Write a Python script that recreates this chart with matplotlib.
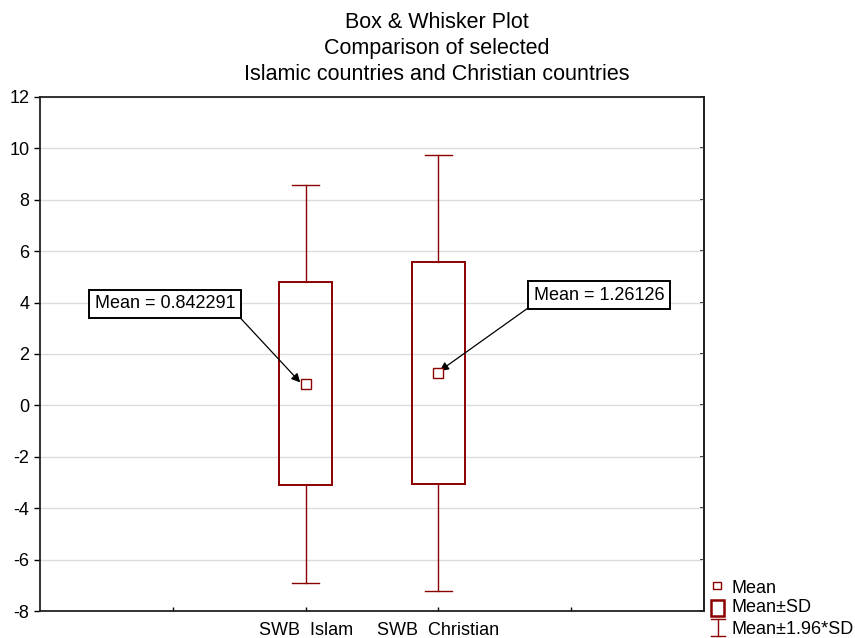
import matplotlib.pyplot as plt
from matplotlib.patches import Rectangle
from matplotlib.lines import Line2D

plt.rcParams['font.family'] = ['Liberation Sans', 'DejaVu Sans']
plt.rcParams['axes.unicode_minus'] = False

# data
groups = ["SWB  Islam", "SWB  Christian"]
means = [0.842291, 1.26126]
sds = [3.95, 4.33]
positions = [2, 3]
mean_labels = ["Mean = 0.842291", "Mean = 1.26126"]
yticks = list(range(-8, 13, 2))

red = "#8b0000"
fs = 13

fig = plt.figure(figsize=(8.55, 6.38), dpi=100)
ax = fig.add_axes([40 / 855, 1 - 611 / 638, 664 / 855, 514 / 638])

for x, m, sd in zip(positions, means, sds):
    lo_w, hi_w = m - 1.96 * sd, m + 1.96 * sd
    box = Rectangle((x - 0.2, m - sd), 0.4, 2 * sd, fill=False, edgecolor=red, lw=1.4, zorder=3)
    ax.add_patch(box)
    ax.plot([x, x], [m + sd, hi_w], color=red, lw=1, zorder=3)
    ax.plot([x, x], [m - sd, lo_w], color=red, lw=1, zorder=3)
    ax.plot([x - 0.1, x + 0.1], [hi_w, hi_w], color=red, lw=1, zorder=3)
    ax.plot([x - 0.1, x + 0.1], [lo_w, lo_w], color=red, lw=1, zorder=3)
    ax.plot(x, m, marker='s', ms=7, mfc='white', mec=red, mew=1, zorder=4)

# mean callouts
box_style = dict(boxstyle='square,pad=0.3', fc='white', ec='black', lw=1.4)
ax.annotate(mean_labels[0], xy=(positions[0] - 0.04, means[0] + 0.05), xytext=(0.94, 3.95),
            ha='center', va='center', fontsize=fs, bbox=box_style,
            arrowprops=dict(arrowstyle='-|>', color='black', lw=0.9, mutation_scale=13,
                            shrinkA=0, shrinkB=0, relpos=(1, 0)))
ax.annotate(mean_labels[1], xy=(positions[1] + 0.01, means[1] + 0.08), xytext=(4.21, 4.28),
            ha='center', va='center', fontsize=fs, bbox=box_style,
            arrowprops=dict(arrowstyle='-|>', color='black', lw=0.9, mutation_scale=13,
                            shrinkA=0, shrinkB=0, relpos=(0, 0)))

ax.set_xlim(0, 5)
ax.set_ylim(-8, 12)
ax.set_yticks(yticks)
ax.set_xticks([1, 2, 3, 4])
ax.set_xticklabels(["", groups[0], groups[1], ""], fontsize=fs)
ax.tick_params(axis='y', labelsize=fs, direction='out', length=4, width=1)
ax.tick_params(axis='x', direction='in', length=3, width=1, pad=8)
sec = ax.secondary_yaxis('right')
sec.set_yticks(yticks)
sec.tick_params(direction='in', length=3, width=1.3, color='#111111', labelright=False)
sec.spines['right'].set_linewidth(1.3)
sec.spines['right'].set_color('#222222')
ax.yaxis.grid(True, color='#dcdcdc', lw=1)
ax.set_axisbelow(True)
for s in ax.spines.values():
    s.set_linewidth(1.3)
    s.set_color('#222222')

# title
tx = 437 / 855
fig.text(tx, 1 - 28 / 638, "Box & Whisker Plot", ha='center', va='baseline', fontsize=15.5)
fig.text(tx, 1 - 54 / 638, "Comparison of selected", ha='center', va='baseline', fontsize=15.5)
fig.text(tx, 1 - 80 / 638, "Islamic countries and Christian countries", ha='center', va='baseline', fontsize=15.5)


# legend
def fx(px):
    return px / 855


def fy(py):
    return 1 - py / 638


fig.add_artist(Rectangle((fx(713), fy(589)), 8 / 855, 7 / 638, fill=False, ec=red, lw=1,
                         transform=fig.transFigure))
fig.add_artist(Rectangle((fx(711), fy(616)), 13 / 855, 16 / 638, fill=False, ec=red, lw=1.8,
                         transform=fig.transFigure))
fig.add_artist(Line2D([fx(718), fx(718)], [fy(619), fy(636)], color=red, lw=1, transform=fig.transFigure))
fig.add_artist(Line2D([fx(711), fx(725)], [fy(619), fy(619)], color=red, lw=1, transform=fig.transFigure))
fig.add_artist(Line2D([fx(711), fx(725)], [fy(636), fy(636)], color=red, lw=1, transform=fig.transFigure))
fig.text(fx(731), fy(593), "Mean", va='baseline', fontsize=fs)
fig.text(fx(731), fy(612), "Mean\u00b1SD", va='baseline', fontsize=fs)
fig.text(fx(731), fy(634), "Mean\u00b11.96*SD", va='baseline', fontsize=fs)

fig.savefig("out.png", dpi=100)
